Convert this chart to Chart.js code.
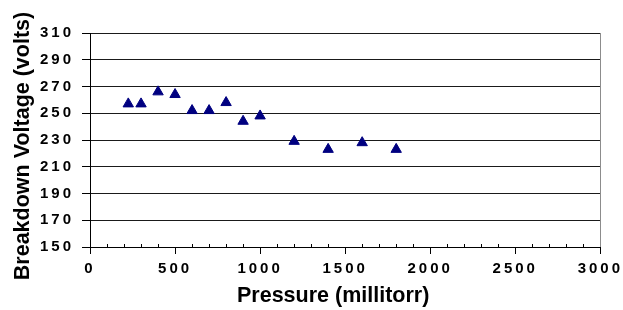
<!DOCTYPE html>
<html>
<head>
<meta charset="utf-8">
<script src="https://cdn.jsdelivr.net/npm/chart.js@4/dist/chart.umd.min.js"></script>
<style>
  html, body { margin: 0; padding: 0; background: #ffffff; }
  #wrap { width: 623px; height: 310px; }
</style>
</head>
<body>
<div id="wrap"><canvas id="c" width="623" height="310"></canvas></div>
<script>
// ---- data ----
const pressure = [225, 300, 400, 500, 600, 700, 800, 900, 1000, 1200, 1400, 1600, 1800];
const voltage  = [257, 257, 266, 264, 252, 252, 258, 244, 248, 229, 223, 228, 223];
const xTitle = 'Pressure (millitorr)';
const yTitle = 'Breakdown Voltage (volts)';
const xMin = 0, xMax = 3000, xStep = 500, xMinorStep = 100;
const yMin = 150, yMax = 310, yStep = 20;

const FONT = "'Liberation Sans', Arial, sans-serif";

const points = pressure.map((p, i) => ({ x: p, y: voltage[i] }));

const decor = {
  id: 'decor',
  afterDatasetsDraw(chart) {
    // spaced-out tick digits like the original
    chart.ctx.letterSpacing = '3px';
  },
  afterDraw(chart) {
    const ctx = chart.ctx;
    ctx.letterSpacing = '0px';
    const a = chart.chartArea;
    const xs = chart.scales.x;
    ctx.save();
    // grey plot-area frame on the right
    ctx.strokeStyle = '#8c8c8c';
    ctx.lineWidth = 1;
    ctx.beginPath();
    ctx.moveTo(Math.round(a.right) + 0.5, a.top);
    ctx.lineTo(Math.round(a.right) + 0.5, a.bottom);
    ctx.stroke();
    // minor ticks on the x axis
    ctx.strokeStyle = '#000';
    ctx.beginPath();
    for (let v = xMin + xMinorStep; v < xMax; v += xMinorStep) {
      if (v % xStep === 0) continue;
      const px = Math.round(xs.getPixelForValue(v)) + 0.5;
      ctx.moveTo(px, a.bottom - 3);
      ctx.lineTo(px, a.bottom);
    }
    ctx.stroke();
    // axis titles
    ctx.fillStyle = '#000';
    ctx.font = "bold 21.5px " + FONT;
    ctx.textAlign = 'center';
    ctx.textBaseline = 'alphabetic';
    ctx.fillText(xTitle, (a.left + a.right) / 2 - 12, 301.5);
    ctx.translate(29, (a.top + a.bottom) / 2 + 6);
    ctx.rotate(-Math.PI / 2);
    ctx.fillText(yTitle, 0, 0);
    ctx.restore();
  }
};

new Chart(document.getElementById('c'), {
  type: 'scatter',
  data: {
    datasets: [{
      data: points,
      pointStyle: 'triangle',
      pointRadius: 6,
      pointHoverRadius: 6,
      pointBorderWidth: 1,
      backgroundColor: '#000080',
      borderColor: '#000080',
      showLine: false
    }]
  },
  options: {
    responsive: false,
    animation: false,
    events: [],
    layout: { padding: { top: 33, right: 20, left: 0, bottom: 0 } },
    plugins: { legend: { display: false }, tooltip: { enabled: false } },
    scales: {
      x: {
        type: 'linear',
        min: xMin, max: xMax,
        afterFit(s) { s.height = 63; },
        ticks: {
          stepSize: xStep,
          color: '#000',
          padding: 6,
          z: 1,
          callback: (v) => String(v),
          font: { family: FONT, size: 15, weight: 'bold' }
        },
        grid: { drawOnChartArea: false, tickLength: 7, color: '#000', tickColor: '#000' },
        border: { display: true, color: '#000', width: 1 }
      },
      y: {
        type: 'linear',
        min: yMin, max: yMax,
        afterFit(s) { s.width = 90; },
        ticks: {
          stepSize: yStep,
          color: '#000',
          padding: 8,
          z: 1,
          callback: (v) => String(v),
          font: { family: FONT, size: 15, weight: 'bold' }
        },
        grid: { color: '#1a1a1a', lineWidth: 1, tickLength: 8, tickColor: '#000' },
        border: { display: true, color: '#000', width: 1 }
      }
    }
  },
  plugins: [decor]
});
</script>
</body>
</html>
